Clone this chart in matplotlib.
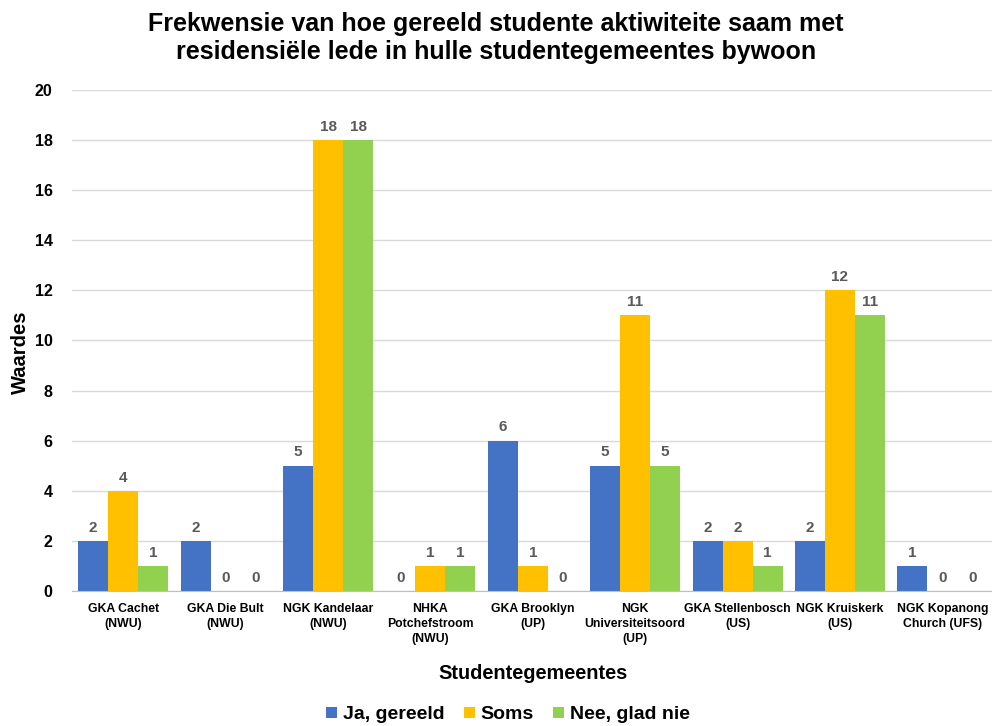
import numpy as np
import matplotlib.pyplot as plt

# data
gemeentes = ['GKA Cachet\n(NWU)', 'GKA Die Bult\n(NWU)', 'NGK Kandelaar\n(NWU)',
             'NHKA\nPotchefstroom\n(NWU)', 'GKA Brooklyn\n(UP)', 'NGK\nUniversiteitsoord\n(UP)',
             'GKA Stellenbosch\n(US)', 'NGK Kruiskerk\n(US)', 'NGK Kopanong\nChurch (UFS)']
ja_gereeld = [2, 2, 5, 0, 6, 5, 2, 2, 1]
soms = [4, 0, 18, 1, 1, 11, 2, 12, 0]
nee = [1, 0, 18, 1, 0, 5, 1, 11, 0]
reeks_name = ['Ja, gereeld', 'Soms', 'Nee, glad nie']
kleure = ['#4472C4', '#FFC000', '#92D050']

plt.rcParams['font.family'] = ['Liberation Sans', 'DejaVu Sans']

fig = plt.figure(figsize=(9.92, 7.26), dpi=100)
ax = fig.add_axes([0.0726, 0.186, 0.929, 0.69])

x = np.arange(len(gemeentes))
w = 0.293
for i, (vals, naam, kleur) in enumerate(zip([ja_gereeld, soms, nee], reeks_name, kleure)):
    bars = ax.bar(x + (i - 1) * w, vals, w, color=kleur, label=naam, zorder=2)
    # value above every bar, also the zero ones
    for b, v in zip(bars, vals):
        ax.text(b.get_x() + b.get_width() / 2, v + 0.25, str(v), ha='center', va='bottom',
                fontsize=11, fontweight='bold', color='#595959')

ax.set_ylim(0, 20)
ax.set_xlim(-0.5, len(gemeentes) - 0.5)
ax.set_yticks(range(0, 21, 2))
ax.yaxis.grid(True, color='#D9D9D9', linewidth=1, zorder=0)
ax.set_axisbelow(True)
for s in ['top', 'right', 'left']:
    ax.spines[s].set_visible(False)
ax.spines['bottom'].set_color('#BFBFBF')
ax.tick_params(axis='both', length=0)
ax.tick_params(axis='y', labelsize=11.5, pad=14)
for t in ax.get_yticklabels():
    t.set_fontweight('bold')
ax.set_xticks(x)
ax.set_xticklabels(gemeentes, fontsize=8.8, fontweight='bold', linespacing=1.3)
ax.tick_params(axis='x', pad=9)

ax.set_ylabel('Waardes', fontsize=14.5, fontweight='bold')
ax.yaxis.label.set_va('center')
ax.yaxis.set_label_coords(-0.056, 0.477)
ax.set_xlabel('Studentegemeentes', fontsize=14.3, fontweight='bold')
ax.xaxis.label.set_va('center')
ax.xaxis.set_label_coords(0.5, -0.164)
fig.suptitle('Frekwensie van hoe gereeld studente aktiwiteite saam met\n'
             'residensiële lede in hulle studentegemeentes bywoon',
             fontsize=18, fontweight='bold', y=0.983, linespacing=1.17)

leg = ax.legend(loc='center', bbox_to_anchor=(0.473, -0.2475), ncol=3, frameon=False,
                prop={'size': 14, 'weight': 'bold'}, handlelength=0.55, handleheight=0.55,
                handletextpad=0.3, columnspacing=1.0)

fig.savefig('out.png', dpi=100)
